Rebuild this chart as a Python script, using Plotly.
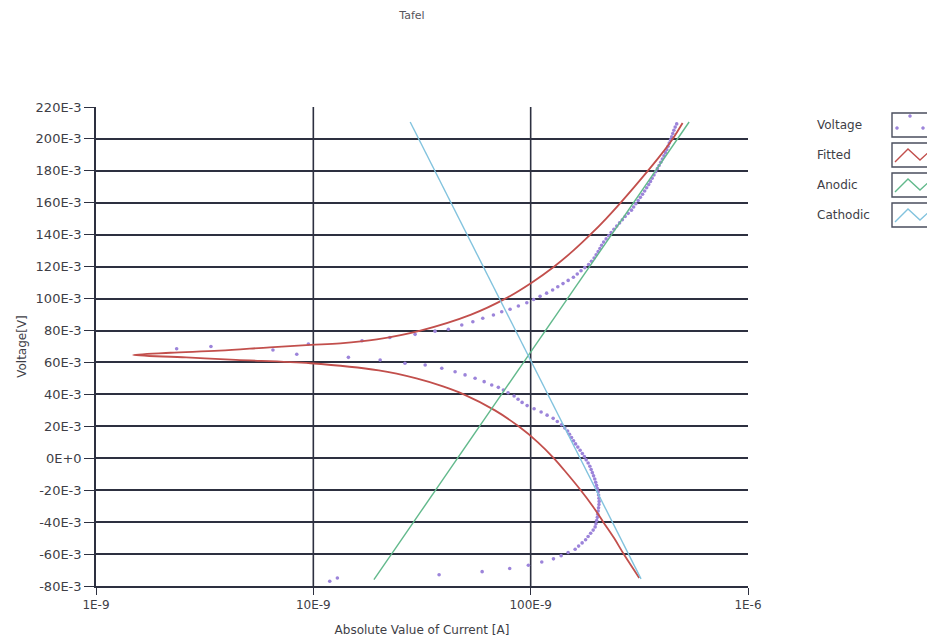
import plotly.graph_objects as go

# ---------------- data (voltage in mV, current in nA) ----------------
meas_v_start = [-77, -75, -73, -71, -69, -67, -65, -63, -61, -59, -57]
meas_i_start = [11.9, 12.9, 37.9, 59.8, 80.1, 97.6, 112.5, 127.3, 138.1, 148.7, 160.2]

meas_v_cath = [-55, -53, -51, -49, -47, -45, -43, -41, -39, -37, -35, -33, -31, -29, -27,
               -25, -23, -21, -19, -17, -15, -13, -11, -9, -7, -5, -3, -1, 1, 3, 5, 7, 9,
               11, 13, 15, 17, 19, 21, 23, 25, 27, 29, 31, 33, 35, 37, 39, 41]
meas_i_cath = [166.2, 172.5, 179.0, 183.8, 188.8, 193.9, 198.0, 199.7, 201.2, 202.7, 203.6,
               204.4, 205.3, 206.2, 206.6, 206.2, 205.3, 204.4, 202.7, 201.0, 199.1, 197.2,
               194.7, 192.2, 189.8, 187.2, 183.8, 180.0, 176.6, 172.9, 168.9, 164.8, 160.9,
               157.5, 154.2, 150.9, 147.9, 143.6, 138.8, 132.6, 126.9, 119.0, 111.7, 103.7,
               96.3, 91.3, 87.5, 83.9, 78.7]

meas_v_corr = [42.8, 44.4, 45.9, 48.0, 50.1, 52.2, 54.2, 56.4, 58.4, 59.5, 61.5, 63.2, 65.1,
               67.8, 68.6, 70.0, 71.6, 73.6, 75.6, 77.6, 79.6, 80.8, 83.5, 85.5, 87.7, 89.7,
               91.8, 93.3, 95.4, 97.4]
meas_i_corr = [74.9, 71.0, 66.2, 61.1, 55.5, 49.9, 44.9, 39.0, 32.7, 26.4, 20.3, 14.5, 8.39,
               6.52, 2.35, 3.38, 9.49, 16.75, 22.5, 29.4, 36.3, 41.8, 48.2, 54.2, 60.2, 67.4,
               73.6, 80.4, 87.8, 96.0]

meas_v_anod = [99.4, 101.4, 103.4, 105.4, 107.4, 109.4, 111.4, 113.4, 115.4, 117.4, 119.4,
               121.4, 123.4, 125.4, 127.4, 129.4, 131.4, 133.4, 135.4, 137.4, 139.4, 141.4,
               143.4, 145.4, 147.4, 149.4, 151.4, 153.4, 155.4, 157.4, 159.4, 161.4, 163.4,
               165.4, 167.4, 169.4, 171.4, 173.4, 175.4, 177.4, 179.4, 181.4, 183.4, 185.4,
               187.4, 189.4, 191.4, 193.4, 195.4, 197.4, 199.4, 201.4, 203.4, 205.4, 207.4, 209.4]
meas_i_anod = [103.2, 110.5, 118.4, 126.2, 133.3, 140.9, 148.8, 157.3, 163.8, 170.5, 177.5,
               184.8, 190.4, 195.9, 200.1, 204.4, 208.3, 212.1, 216.7, 222.5, 228.5, 234.6,
               241.6, 248.9, 256.4, 264.2, 272.1, 280.9, 290.9, 297.7, 304.8, 312.3, 319.7,
               327.2, 334.6, 341.7, 349.1, 355.8, 362.3, 369.3, 376.0, 382.8, 389.8, 396.9,
               403.7, 410.6, 417.2, 423.0, 428.8, 434.3, 439.9, 445.5, 450.7, 456.0, 462.3, 469.8]

fit_v = [-75, -60, -50, -40, -30, -20, -10, 0, 10, 20, 30, 40, 45, 50, 55, 59.5, 61.6, 63.2,
         64.7, 66.1, 67.4, 69.5, 71, 72, 74.5, 80, 90, 100, 110, 120, 130, 140, 150, 160, 170,
         180, 190, 200, 210]
fit_i = [316, 268, 242, 216, 193, 170, 148, 128, 108, 88, 68.5, 49.2, 39.5, 29.8, 20.0, 9.7,
         4.4, 2.6, 1.48, 2.2, 3.7, 6.3, 9.7, 13.3, 19.6, 31.1, 53.2, 76.5, 101, 128, 157, 188,
         222, 259, 300, 346, 397, 450, 500]

anodic_v = [-76, 210.6]
anodic_i = [19.0, 536]
cathodic_v = [210.6, -75.5]
cathodic_i = [27.9, 322]

x_tick_values = [1e-9, 1e-8, 1e-7, 1e-6]
x_tick_labels = ["1E-9", "10E-9", "100E-9", "1E-6"]
y_tick_values = [-0.08, -0.06, -0.04, -0.02, 0.0, 0.02, 0.04, 0.06, 0.08, 0.10, 0.12, 0.14,
                 0.16, 0.18, 0.20, 0.22]
y_tick_labels = ["-80E-3", "-60E-3", "-40E-3", "-20E-3", "0E+0", "20E-3", "40E-3", "60E-3",
                 "80E-3", "100E-3", "120E-3", "140E-3", "160E-3", "180E-3", "200E-3", "220E-3"]

series_names = ["Voltage", "Fitted", "Anodic", "Cathodic"]
series_colors = ["#9c84da", "#c24f4c", "#62b98c", "#82c3de"]

# ---------------- build ----------------
meas_v = meas_v_start + meas_v_cath + meas_v_corr + meas_v_anod
meas_i = meas_i_start + meas_i_cath + meas_i_corr + meas_i_anod
assert len(meas_v) == len(meas_i)

nA = 1e-9
mV = 1e-3

fig = go.Figure()
fig.add_trace(go.Scatter(x=[i * nA for i in meas_i], y=[v * mV for v in meas_v],
                         mode="markers", name=series_names[0],
                         marker=dict(color=series_colors[0], size=3.6), showlegend=False))
fig.add_trace(go.Scatter(x=[i * nA for i in fit_i], y=[v * mV for v in fit_v],
                         mode="lines", name=series_names[1], line_shape="spline",
                         line=dict(color=series_colors[1], width=1.8), showlegend=False))
fig.add_trace(go.Scatter(x=[i * nA for i in anodic_i], y=[v * mV for v in anodic_v],
                         mode="lines", name=series_names[2],
                         line=dict(color=series_colors[2], width=1.4), showlegend=False))
fig.add_trace(go.Scatter(x=[i * nA for i in cathodic_i], y=[v * mV for v in cathodic_v],
                         mode="lines", name=series_names[3],
                         line=dict(color=series_colors[3], width=1.4), showlegend=False))

# page body adds an 8 px offset; target-screen coordinates are converted below
OFF = 8
W, H = 935, 643
PL, PR, PT, PB = 96, 748, 107, 586          # plot area in screen pixels
L = PL - OFF
T = PT - OFF
R = W - (PR - OFF)
B = H - (PB - OFF)
PW, PH = PR - PL, PB - PT


def px(xp):
    return (xp - PL) / PW


def py(yp):
    return (PB - yp) / PH


grid_col = "#2d3040"
txt_col = "#3e3e46"
font_fam = "DejaVu Sans"

shapes = []
for xv in x_tick_values[1:-1]:
    shapes.append(dict(type="line", xref="x", yref="paper", x0=xv, x1=xv, y0=0, y1=1,
                       line=dict(color=grid_col, width=1.6), layer="below"))

annotations = []
rows = [125, 155, 185, 215]
for k, (name, col) in enumerate(zip(series_names, series_colors)):
    r = rows[k]
    annotations.append(dict(xref="paper", yref="paper", x=px(815), y=py(r), text=name,
                            showarrow=False, xanchor="left", yanchor="middle",
                            font=dict(family=font_fam, size=12, color=txt_col)))
    shapes.append(dict(type="rect", xref="paper", yref="paper", x0=px(892), x1=px(932),
                       y0=py(r + 12), y1=py(r - 12),
                       line=dict(color="#4a4e5e", width=1.4), fillcolor="white"))
    if k == 0:
        for (dx, dy) in [(910, r - 9), (897, r + 3), (923, r + 3)]:
            shapes.append(dict(type="circle", xref="paper", yref="paper",
                               x0=px(dx - 1.5), x1=px(dx + 1.5), y0=py(dy + 1.5), y1=py(dy - 1.5),
                               line=dict(color=col, width=0.5), fillcolor=col))
    else:
        pts = [(895, r + 7), (908, r - 6), (920, r + 5), (931, r - 5)]
        path = "M " + " L ".join(f"{px(a):.5f},{py(b):.5f}" for a, b in pts)
        shapes.append(dict(type="path", xref="paper", yref="paper", path=path,
                           line=dict(color=col, width=1.4)))

fig.update_layout(
    width=W, height=H,
    margin=dict(l=L, r=R, t=T, b=B, pad=0),
    paper_bgcolor="white", plot_bgcolor="white",
    title=dict(text="Tafel", x=(412 - OFF) / W, xref="container", xanchor="center",
               y=1 - (15 - OFF) / H, yref="container", yanchor="middle",
               font=dict(family=font_fam, size=11, color="#55555c")),
    xaxis=dict(type="log", range=[-9, -6], tickvals=x_tick_values, ticktext=x_tick_labels,
               showgrid=False, zeroline=False, showline=True, linecolor=grid_col, linewidth=1.6,
               ticks="outside", ticklen=7, tickwidth=1.4, tickcolor=grid_col,
               tickfont=dict(family=font_fam, size=12, color=txt_col),
               title=dict(text="Absolute Value of Current [A]", standoff=14,
                          font=dict(family=font_fam, size=12, color=txt_col))),
    yaxis=dict(range=[-0.08, 0.22], tickvals=y_tick_values, ticktext=y_tick_labels,
               showgrid=True, gridcolor=grid_col, gridwidth=1.6, zeroline=False,
               showline=True, linecolor=grid_col, linewidth=1.6,
               ticks="outside", ticklen=10, tickwidth=1.4, tickcolor=grid_col,
               tickfont=dict(family=font_fam, size=13, color=txt_col),
               title=dict(text="Voltage[V]", standoff=6,
                          font=dict(family=font_fam, size=12, color=txt_col))),
    shapes=shapes,
    annotations=annotations,
    showlegend=False,
)

fig.write_html("out.html")
